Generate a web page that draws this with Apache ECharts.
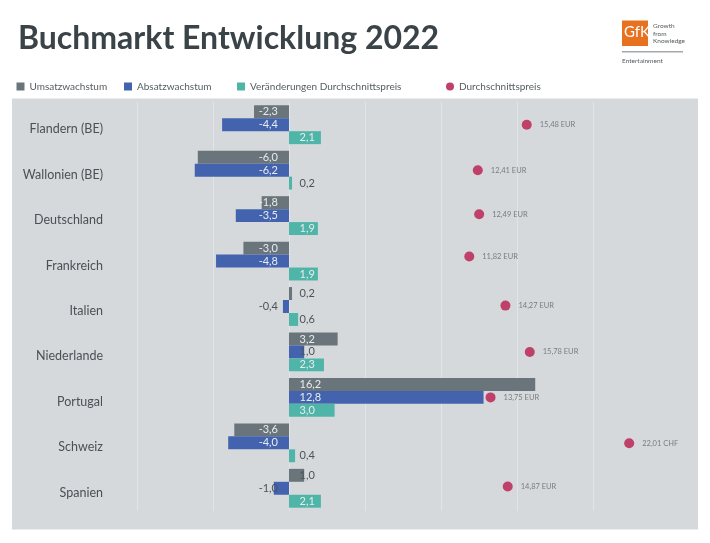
<!DOCTYPE html>
<html><head><meta charset="utf-8">
<style>html,body{margin:0;padding:0;background:#fff}#c{width:710px;height:543px}</style>
<script src="https://cdn.jsdelivr.net/npm/echarts@6/dist/echarts.min.js"></script>
</head><body><div id="c"></div>
<script>
const categories = ['Flandern (BE)','Wallonien (BE)','Deutschland','Frankreich','Italien','Niederlande','Portugal','Schweiz','Spanien'];
const umsatz = [-2.3,-6.0,-1.8,-3.0,0.2,3.2,16.2,-3.6,1.0];
const absatz = [-4.4,-6.2,-3.5,-4.8,-0.4,1.0,12.8,-4.0,-1.0];
const preisAenderung = [2.1,0.2,1.9,1.9,0.6,2.3,3.0,0.4,2.1];
const preisPosition = [15.64,12.42,12.51,11.86,14.24,15.84,13.26,22.38,14.39];
const preisZeile = [0,1,1.97,2.9,3.98,5,6,7.01,7.96];
const preisLabels = ['15,48 EUR','12,41 EUR','12,49 EUR','11,82 EUR','14,27 EUR','15,78 EUR','13,75 EUR','22,01 CHF','14,87 EUR'];
const ticks = [-10,25,5];

const FONT = 'Lato, "Open Sans", sans-serif';
const fmt = v => v.toFixed(1).replace('.', ',');
const barData = arr => arr.map(v => ({
  value: v,
  label: {
    show: true,
    position: v < 0 ? 'insideRight' : 'insideLeft',
    distance: v < 0 ? 11 : 10.5,
    formatter: fmt(v),
    fontFamily: FONT, fontSize: 11,
    color: Math.abs(v) >= 1.5 ? '#e8ebec' : '#4c5356'
  }
}));
const barSeries = (name, arr, color) => ({
  name, type: 'bar', data: barData(arr), barGap: 0, barCategoryGap: '14.5%',
  itemStyle: { color }, silent: true, animation: false
});
const legendAt = (name, left, icon) => ({
  data: [{ name, icon }], left, top: 81.5, padding: 0, itemWidth: 8, itemHeight: 8, selectedMode: false,
  textStyle: { fontFamily: FONT, fontSize: 10, color: '#565c60' }
});

const chart = echarts.init(document.getElementById('c'));
chart.setOption({
  animation: false,
  title: { text: 'Buchmarkt Entwicklung 2022', left: 18, top: 23, padding: 0,
    textStyle: { fontFamily: FONT, fontWeight: 'bold', fontSize: 32, color: '#3a4347' } },
  legend: [
    legendAt('Umsatzwachstum', 16.5, 'rect'),
    legendAt('Absatzwachstum', 124, 'rect'),
    legendAt('Veränderungen Durchschnittspreis', 237, 'rect'),
    legendAt('Durchschnittspreis', 446, 'circle')
  ],
  grid: { left: 137, width: 532, top: 102, height: 409 },
  xAxis: { type: 'value', min: ticks[0], max: ticks[1], interval: ticks[2],
    axisLabel: { show: false }, axisLine: { show: false }, axisTick: { show: false },
    splitLine: { show: true, showMaxLine: false, lineStyle: { color: '#e2e5e7', width: 1 } } },
  yAxis: [
    { type: 'category', data: categories, inverse: true,
      axisLine: { show: false }, axisTick: { show: false },
      axisLabel: { margin: 34, fontFamily: FONT, fontSize: 12.5, color: '#4a5054', verticalAlign: 'top', lineHeight: 9 } },
    { type: 'value', inverse: true, min: -0.5, max: 8.5, show: false, splitLine: { show: false } }
  ],
  series: [
    barSeries('Umsatzwachstum', umsatz, '#6a757b'),
    barSeries('Absatzwachstum', absatz, '#4463ae'),
    barSeries('Veränderungen Durchschnittspreis', preisAenderung, '#4fb5a8'),
    { name: 'Durchschnittspreis', type: 'scatter', yAxisIndex: 1, symbolSize: 10, silent: true,
      data: preisPosition.map((x, i) => [x, preisZeile[i]]),
      itemStyle: { color: '#bf4068', opacity: 1 },
      label: { show: true, position: 'right', distance: 8, fontFamily: FONT, fontSize: 7.5, color: '#777c80',
        formatter: p => preisLabels[p.dataIndex] } }
  ],
  graphic: [
    { type: 'rect', z: -10, silent: true, shape: { x: 12, y: 98.5, width: 686, height: 431 }, style: { fill: '#d6d9dc' } },
    { type: 'rect', silent: true, shape: { x: 622, y: 20.5, width: 26, height: 25.5 }, style: { fill: '#e8711f' } },
    { type: 'text', silent: true, x: 624, y: 25, style: { text: 'GfK', fill: '#fff', font: '15px ' + FONT } },
    { type: 'text', silent: true, x: 653, y: 22.5, style: { text: 'Growth', fill: '#55595c', font: '6.5px ' + FONT } },
    { type: 'text', silent: true, x: 653, y: 30, style: { text: 'from', fill: '#55595c', font: '6.5px ' + FONT } },
    { type: 'text', silent: true, x: 653, y: 37, style: { text: 'Knowledge', fill: '#55595c', font: '6.5px ' + FONT } },
    { type: 'rect', silent: true, shape: { x: 622, y: 51, width: 61, height: 1.6 }, style: { fill: '#a5a8aa' } },
    { type: 'text', silent: true, x: 622, y: 57, style: { text: 'Entertainment', fill: '#55595c', font: '6.5px ' + FONT } }
  ]
});
</script></body></html>
